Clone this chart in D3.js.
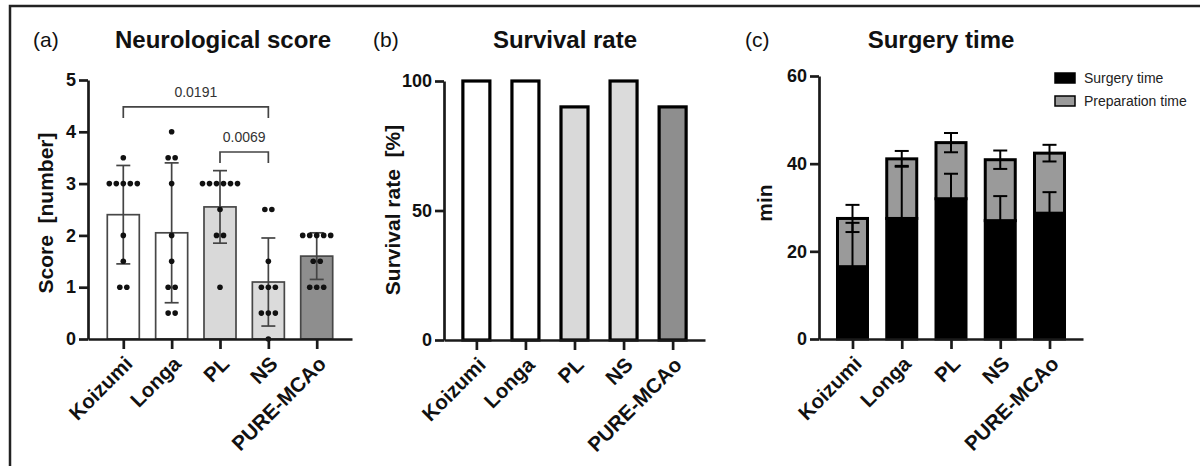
<!DOCTYPE html>
<html>
<head>
<meta charset="utf-8">
<script src="https://cdn.jsdelivr.net/npm/d3@7"></script>
<style>
  body { margin: 0; background: #fff; }
  svg { font-family: "Liberation Sans", Arial, sans-serif; }
</style>
</head>
<body>
<div id="container"></div>
<script>
/* CONSTANTS AND GLOBALS */
const width = 1200,
  height = 466;

// groups shared by all three panels
const groups = ["Koizumi", "Longa", "PL", "NS", "PURE-MCAo"];
const groupFill = ["#ffffff", "#ffffff", "#d9d9d9", "#dbdbdb", "#8e8e8e"];

// (a) neurological score
const scoreMean = [2.4, 2.05, 2.55, 1.1, 1.6];
const scoreSD = [0.95, 1.35, 0.7, 0.85, 0.45];
const scorePoints = [
  [3.5, 3, 3, 3, 3, 3, 2, 1.5, 1, 1],
  [4, 3.5, 3.5, 3, 2, 1.5, 1, 1, 0.5, 0.5],
  [3, 3, 3, 3, 3, 3, 2.5, 2, 2, 1],
  [2.5, 2.5, 1.5, 1, 1, 1, 0.5, 0.5, 0.5, 0],
  [2, 2, 2, 2, 2, 1.5, 1.5, 1, 1, 1]
];
const scoreTicks = [0, 1, 2, 3, 4, 5];
const pairs = [
  {from: "Koizumi", to: "NS", p: "0.0191", level: 4.48},
  {from: "PL", to: "NS", p: "0.0069", level: 3.61}
];

// (b) survival rate
const survival = [100, 100, 90, 100, 90];
const survivalTicks = [0, 50, 100];

// (c) surgery time
const surgeryMean = [16.5, 27.5, 32, 27, 28.7];
const surgerySD = [10, 12, 5.7, 5.6, 4.8];
const prepMean = [11, 13.6, 12.8, 13.9, 13.7];
const prepSD = [3.1, 1.8, 2.2, 2.1, 1.9];
const timeTicks = [0, 20, 40, 60];
const legend = [{color: "#000", text: "Surgery time"},
                {color: "#9a9a9a", text: "Preparation time"}];

const svg = d3.select("#container")
  .append("svg")
  .attr("width", width)
  .attr("height", height);

// frame of the figure (only top and left edges are visible)
svg.append("path")
  .attr("d", `M10,${height} L10,6 L${width},6`)
  .attr("fill", "none")
  .attr("stroke", "#222")
  .attr("stroke-width", 2.5);

const fillScale = d3.scaleOrdinal().domain(groups).range(groupFill);

// helper: axes for one panel
function drawAxes(xScale, yScale, ticks, yBottom, xLeft) {
  const gy = svg.append("g")
    .attr("transform", `translate(${xLeft},0)`)
    .call(d3.axisLeft(yScale).tickValues(ticks).tickFormat(d3.format("d"))
      .tickSize(9).tickSizeOuter(0).tickPadding(3));
  const gx = svg.append("g")
    .attr("transform", `translate(0,${yBottom})`)
    .call(d3.axisBottom(xScale).tickSize(10).tickSizeOuter(0));

  [gx, gy].forEach(g => {
    g.select(".domain").attr("stroke", "#1a1a1a").attr("stroke-width", 2.7);
    g.selectAll(".tick line").attr("stroke", "#1a1a1a").attr("stroke-width", 2.7);
  });
  gy.selectAll(".tick text")
    .style("font-size", "18px")
    .style("font-weight", "bold")
    .attr("fill", "#111");
  gx.selectAll(".tick text")
    .style("font-size", "20.5px")
    .style("font-weight", "bold")
    .attr("fill", "#111")
    .attr("text-anchor", "end")
    .attr("dy", "0.35em")
    .attr("transform", "translate(5,21) rotate(-45)")
    .attr("y", 0)
    .attr("x", 0);
  gx.raise();
  gy.raise();
}

function titles(tag, tagX, title, titleX, ylabel, ylabelX, ylabelY) {
  svg.append("text")
    .attr("x", tagX).attr("y", 47)
    .style("font-size", "21px")
    .attr("fill", "#111")
    .text(tag);
  svg.append("text")
    .attr("x", titleX).attr("y", 48)
    .attr("text-anchor", "middle")
    .style("font-size", "24px")
    .style("font-weight", "bold")
    .attr("fill", "#111")
    .text(title);
  svg.append("text")
    .attr("transform", `translate(${ylabelX},${ylabelY}) rotate(-90)`)
    .attr("text-anchor", "middle")
    .style("font-size", "21px")
    .style("font-weight", "bold")
    .attr("fill", "#111")
    .style("white-space", "pre")
    .text(ylabel);
}

/* PANEL (a) */
{
  const x = d3.scalePoint().domain(groups).range([88, 352]).padding(0.73);
  const y = d3.scaleLinear().domain([0, 5]).range([339, 80]);
  const bw = 32;
  const g = svg.append("g");

  g.selectAll(".barA")
    .data(groups)
    .join("rect")
    .attr("class", "barA")
    .attr("x", d => x(d) - bw / 2)
    .attr("width", bw)
    .attr("y", (d, i) => y(scoreMean[i]))
    .attr("height", (d, i) => y(0) - y(scoreMean[i]))
    .attr("fill", d => fillScale(d))
    .attr("stroke", "#474747")
    .attr("stroke-width", 1.7);

  // error bars (mean ± SD)
  groups.forEach((d, i) => {
    const lo = y(scoreMean[i] - scoreSD[i]), hi = y(scoreMean[i] + scoreSD[i]);
    g.append("line").attr("x1", x(d)).attr("x2", x(d)).attr("y1", lo).attr("y2", hi)
      .attr("stroke", "#444").attr("stroke-width", 1.7);
    [lo, hi].forEach(v => g.append("line")
      .attr("x1", x(d) - 7).attr("x2", x(d) + 7).attr("y1", v).attr("y2", v)
      .attr("stroke", "#444").attr("stroke-width", 1.7));
  });

  // individual animals
  groups.forEach((d, i) => {
    const counts = d3.rollup(scorePoints[i], v => v.length, v => v);
    counts.forEach((n, val) => {
      d3.range(n).forEach(k => {
        g.append("circle")
          .attr("cx", x(d) + (k - (n - 1) / 2) * 7)
          .attr("cy", y(val))
          .attr("r", 2.8)
          .attr("fill", "#111");
      });
    });
  });

  // significance brackets
  pairs.forEach(p => {
    const yy = y(p.level);
    g.append("path")
      .attr("d", `M${x(p.from)},${yy + 11} V${yy} H${x(p.to)} V${yy + 11}`)
      .attr("fill", "none")
      .attr("stroke", "#444")
      .attr("stroke-width", 1.7);
    g.append("text")
      .attr("x", (x(p.from) + x(p.to)) / 2)
      .attr("y", yy - 10)
      .attr("text-anchor", "middle")
      .style("font-size", "14px")
      .attr("fill", "#333")
      .text(p.p);
  });

  drawAxes(x, y, scoreTicks, 339, 88);
  titles("(a)", 33, "Neurological score", 223, "Score  [number]", 53, 213);
}

/* PANEL (b) */
{
  const x = d3.scalePoint().domain(groups).range([444, 705]).padding(0.66);
  const y = d3.scaleLinear().domain([0, 100]).range([340, 81]);
  const bw = 27;

  svg.selectAll(".barB")
    .data(groups)
    .join("rect")
    .attr("class", "barB")
    .attr("x", d => x(d) - bw / 2)
    .attr("width", bw)
    .attr("y", (d, i) => y(survival[i]))
    .attr("height", (d, i) => y(0) - y(survival[i]))
    .attr("fill", d => fillScale(d))
    .attr("stroke", "#000")
    .attr("stroke-width", 3.2);

  drawAxes(x, y, survivalTicks, 340, 444);
  titles("(b)", 373, "Survival rate", 565, "Survival rate  [%]", 400, 210);
}

/* PANEL (c) */
{
  const x = d3.scalePoint().domain(groups).range([819, 1083]).padding(0.68);
  const y = d3.scaleLinear().domain([0, 60]).range([339, 76]);
  const bw = 30;
  const g = svg.append("g");

  groups.forEach((d, i) => {
    const s = surgeryMean[i], t = surgeryMean[i] + prepMean[i];
    g.append("rect")
      .attr("x", x(d) - bw / 2).attr("width", bw)
      .attr("y", y(s)).attr("height", y(0) - y(s))
      .attr("fill", legend[0].color).attr("stroke", "#000").attr("stroke-width", 3);
    g.append("rect")
      .attr("x", x(d) - bw / 2).attr("width", bw)
      .attr("y", y(t)).attr("height", y(s) - y(t))
      .attr("fill", legend[1].color).attr("stroke", "#000").attr("stroke-width", 3);
  });

  // error bars: surgery (upward) and total (± SD)
  groups.forEach((d, i) => {
    const s = surgeryMean[i], t = surgeryMean[i] + prepMean[i];
    const segs = [[s, s + surgerySD[i]], [t - prepSD[i], t + prepSD[i]]];
    segs.forEach(([a, b], j) => {
      g.append("line").attr("x1", x(d)).attr("x2", x(d)).attr("y1", y(a)).attr("y2", y(b))
        .attr("stroke", "#000").attr("stroke-width", 2);
      const caps = j === 0 ? [b] : [a, b];
      caps.forEach(v => g.append("line")
        .attr("x1", x(d) - 7).attr("x2", x(d) + 7).attr("y1", y(v)).attr("y2", y(v))
        .attr("stroke", "#000").attr("stroke-width", 2));
    });
  });

  drawAxes(x, y, timeTicks, 339, 819);
  titles("(c)", 745, "Surgery time", 941, "min", 772, 203);

  legend.forEach((d, i) => {
    svg.append("rect")
      .attr("x", 1055).attr("y", 73 + i * 23)
      .attr("width", 20).attr("height", 10)
      .attr("fill", d.color)
      .attr("stroke", "#000")
      .attr("stroke-width", 1.5);
    svg.append("text")
      .attr("x", 1084).attr("y", 78 + i * 23)
      .attr("dy", "0.35em")
      .style("font-size", "14px")
      .attr("fill", "#222")
      .text(d.text);
  });
}
</script>
</body>
</html>
